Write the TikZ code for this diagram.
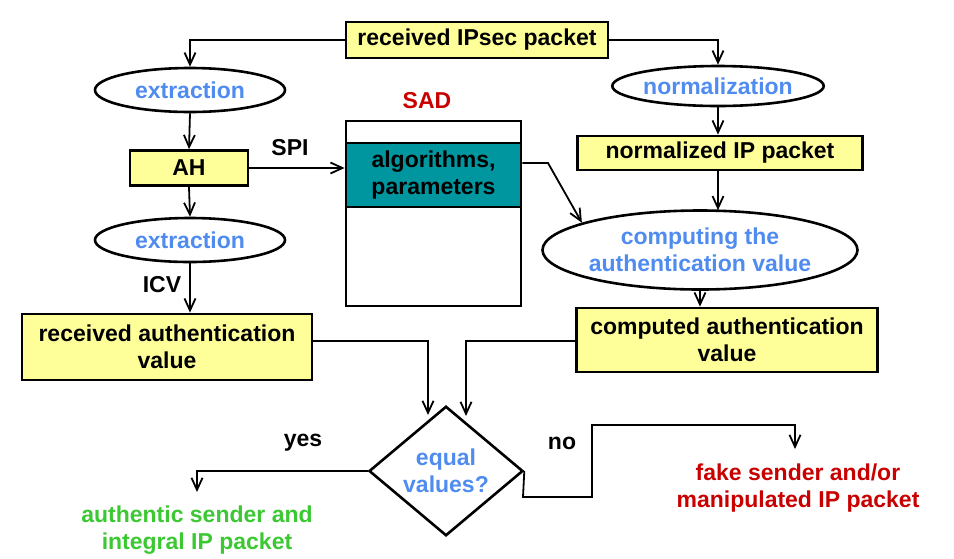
\documentclass[tikz,border=0pt]{standalone}
\usepackage{fontspec}
\setmainfont{Liberation Sans}
\usetikzlibrary{shapes.geometric,arrows.meta,calc}
\definecolor{boxyellow}{RGB}{255,255,153}
\definecolor{sadteal}{RGB}{0,150,160}
\definecolor{txtblue}{RGB}{80,140,240}
\definecolor{txtred}{RGB}{200,0,0}
\definecolor{txtgreen}{RGB}{60,200,50}
\begin{document}
\begin{tikzpicture}[x=1pt,y=-1pt,
  every node/.style={font=\fontsize{23}{27}\selectfont\bfseries},
  ybox/.style={draw,line width=2.8pt,fill=boxyellow,inner sep=0pt,align=center},
  oval/.style={draw,ellipse,line width=2.6pt,fill=white,inner sep=0pt,text=txtblue,align=center},
  sadbox/.style={draw,line width=2.8pt,inner sep=0pt,align=center},
  lbl/.style={inner sep=0pt,align=center},
  conn/.style={line width=1.8pt,-{Straight Barb[length=12pt,width=11pt,line width=1.8pt]}},
  plain/.style={line width=1.8pt}]
\useasboundingbox (0,0) rectangle (954,558);

\node[ybox,minimum width=262,minimum height=36] (top) at (477,40) {received IPsec packet};

\node[oval,minimum width=190,minimum height=44] (ext1) at (190,90) {extraction};
\node[ybox,minimum width=118,minimum height=35] (ah) at (189,168) {AH};
\node[oval,minimum width=190,minimum height=44] (ext2) at (190,240) {extraction};
\node[lbl] (icv) at (162,285) {ICV};
\node[ybox,minimum width=290,minimum height=66] (recv) at (167,347) {received authentication\\value};

\node[lbl,text=txtred] (sadl) at (427,101) {SAD};
\node[sadbox,fill=white,minimum width=175,minimum height=185] (sad) at (433.5,213.5) {};
\node[sadbox,fill=sadteal,minimum width=175,minimum height=64] (alg) at (433.5,175) {algorithms,\\parameters};
\node[lbl] (spi) at (290,148) {SPI};

\node[oval,minimum width=203,minimum height=40] (norm) at (718,86) {normalization};
\node[ybox,minimum width=285,minimum height=34] (nip) at (720,153) {normalized IP packet};
\node[oval,minimum width=315,minimum height=79] (comp) at (700,250) {computing the\\authentication value};
\node[ybox,minimum width=301,minimum height=64] (cav) at (727,340) {computed authentication\\value};

\node[draw,diamond,line width=2.6pt,fill=white,inner sep=0pt,minimum width=154,minimum height=129,text=txtblue,align=center] (dia) at (446,471) {equal\\values?};

\node[lbl] (yes) at (303,443) {yes};
\node[lbl] (no) at (562,443) {no};
\node[lbl,text=txtgreen] (auth) at (197,530) {authentic sender and\\integral IP packet};
\node[lbl,text=txtred] (fake) at (798,488) {fake sender and/or\\manipulated IP packet};

% connectors
\draw[conn] (top.west) -| (ext1.north);
\draw[conn] (top.east) -| (norm.north);
\draw[conn] (ext1.south) -- (ah.north);
\draw[conn] (ah.south) -- (ext2.north);
\draw[conn] (ext2.south) -- (recv.north -| ext2.south);
\draw[conn] (ah.east) -- (alg.west |- ah.east);
\coordinate (bend) at (548,163);
\draw[conn] (alg.east |- bend) -- (bend) -- (comp.167);
\draw[conn] (norm.south) -- (nip.north -| norm.south);
\draw[conn] (nip.south -| norm.south) -- ($(comp.north -| norm.south)+(0,1)$);
\draw[conn] (comp.south) -- (cav.north -| comp.south);

\coordinate (lin) at (428,415);
\coordinate (rin) at (466,416);
\draw[conn] (recv.east |- 0,341) -| (lin);
\draw[conn] (cav.west |- 0,341) -| (rin);

\coordinate (yesend) at (197,492);
\draw[conn] (dia.west) -| (yesend);
\coordinate (no1) at (523,497);
\coordinate (no2) at (592,425);
\coordinate (noend) at (795,449);
\draw[conn] (dia.east) -- (no1) -| (no2) -| (noend);
\end{tikzpicture}
\end{document}
